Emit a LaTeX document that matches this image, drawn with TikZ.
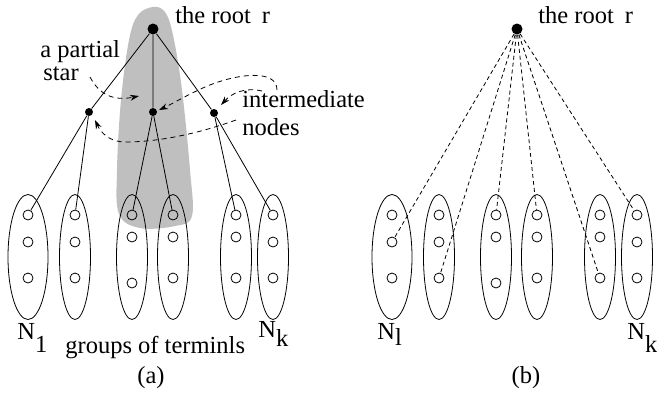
\documentclass[tikz,border=0pt]{standalone}
\usepackage{fontspec}
\setmainfont{Liberation Serif}
\usetikzlibrary{shapes.geometric}
\usetikzlibrary{arrows.meta}
\usetikzlibrary{positioning}

\begin{document}
\begin{tikzpicture}[x=1pt, y=-1pt, line width=0.8pt,
    font=\fontsize{24.5}{26}\selectfont,
    rootdot/.style={circle, fill, inner sep=0pt, minimum size=11pt},
    innerdot/.style={circle, fill, inner sep=0pt, minimum size=8pt},
    term/.style={circle, draw, inner sep=0pt, minimum size=10pt},
    group/.style={ellipse, draw, inner sep=0pt, minimum width=31pt, minimum height=125pt},
    lbl/.style={anchor=base west, inner sep=0pt},
    hint/.style={dash pattern=on 5pt off 4pt, -{Stealth[length=9pt,width=6pt]}},
    direct/.style={dash pattern=on 4pt off 3pt}]
  \useasboundingbox (0,0) rectangle (657,392);

  % shaded partial star
  \fill[gray!50] plot[smooth cycle, tension=0.6] coordinates {(153,7) (138,15) (129,40) (121,100)
    (117,170) (119,214) (140,228) (175,226) (192,216) (190,170) (182,90) (173,35) (165,12)};

  % groups of terminals, (a) and (b)
  \foreach \p/\dx in {a/0, b/364} {
    \foreach \g/\x/\w/\ya/\yb/\yc in {1/28/40/215/242/278, 2/75/31/215/242/278,
        3/132/31/215/237/283, 4/173/31/215/237/278, 5/236/31/215/237/278, 6/273/31/215/242/278} {
      \node[group, minimum width=\w pt] (\p-g\g) at (\x+\dx,257) {};
      \node[term] (\p-\g-1) at (\x+\dx,\ya) {};
      \node[term] (\p-\g-2) at (\x+\dx,\yb) {};
      \node[term] (\p-\g-3) at (\x+\dx,\yc) {};
    }
  }

  % (a) tree through intermediate nodes
  \node[rootdot] (a-root) at (153,29) {};
  \node[innerdot] (a-mid1) at (89,112) {};
  \node[innerdot] (a-mid2) at (153,112) {};
  \node[innerdot] (a-mid3) at (214,113) {};

  \draw
    (a-root) -- (a-mid1)
    (a-root) -- (a-mid2)
    (a-root) -- (a-mid3)
    (a-mid1) -- (a-1-1)
    (a-mid1) -- (a-2-1)
    (a-mid2) -- (a-3-1)
    (a-mid2) -- (a-4-1)
    (a-mid3) -- (a-5-1)
    (a-mid3) -- (a-6-1);

  \node[lbl] (a-rootlbl) at (175,23) {the root\hspace{11pt}r};
  \node[lbl] (a-partial) at (40,57) {a partial};
  \node[lbl] (a-star) at (43,80) {star};
  \node[lbl, align=left, font=\fontsize{24.5}{27.5}\selectfont] (a-inter) at (242,135) {intermediate\\nodes};
  \node[lbl] (a-n1) at (17,339) {N\raisebox{-13pt}{1}};
  \node[lbl] (a-nk) at (258,337) {N\raisebox{-9pt}{k}};
  \node[lbl] (a-groups) at (65,353) {groups of terminls};
  \node[anchor=base, inner sep=0pt] (a-cap) at (151,383) {(a)};

  % dashed pointers
  \coordinate (p-star) at (90,77);
  \coordinate (p-star-end) at (139,96);
  \coordinate (p-top) at (277,90);
  \coordinate (p-top-end) at (159,110);
  \coordinate (p-mid) at (262,91);
  \coordinate (p-mid-end) at (221,105);
  \coordinate (p-low) at (236,120);
  \coordinate (p-low-end) at (95,120);
  \draw[hint] (p-star) .. controls (100,96) and (115,101) .. (p-star-end);
  \draw[hint] (p-top) .. controls (277,68) and (235,74) .. (205,87)
    .. controls (185,96) and (172,104) .. (p-top-end);
  \draw[hint] (p-mid) .. controls (245,87) and (232,93) .. (p-mid-end);
  \draw[hint] (p-low) .. controls (200,133) and (160,142) .. (125,142)
    .. controls (110,142) and (101,133) .. (p-low-end);

  % (b) direct star
  \node[rootdot] (b-root) at (517,29) {};
  \draw[direct]
    (b-root) -- (b-1-2)
    (b-root) -- (b-2-3)
    (b-root) -- (b-3-1)
    (b-root) -- (b-4-1)
    (b-root) -- (b-5-3)
    (b-root) -- (b-6-1);

  \node[lbl] (b-rootlbl) at (538,23) {the root\hspace{11pt}r};
  \node[lbl] (b-n1) at (377,339) {N\raisebox{-6pt}{l}};
  \node[lbl] (b-nk) at (627,339) {N\raisebox{-13pt}{k}};
  \node[anchor=base, inner sep=0pt] (b-cap) at (526,383) {(b)};
\end{tikzpicture}
\end{document}
